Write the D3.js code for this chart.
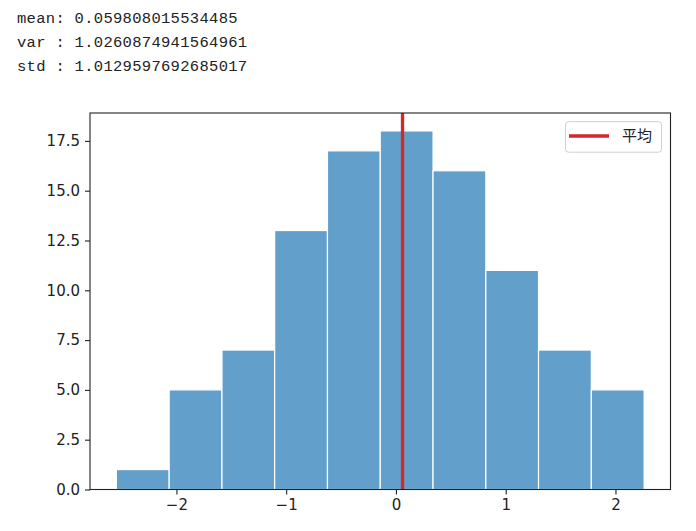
<!DOCTYPE html>
<html>
<head>
<meta charset="utf-8">
<script src="https://cdn.jsdelivr.net/npm/d3@7"></script>
<style>
  body { margin: 0; background: #fff; }
  svg { display: block; }
</style>
</head>
<body>
<svg id="chart" width="696" height="531"></svg>
<script>
// stats printed above the plot
const statLines = [
  'mean: 0.059808015534485',
  'var : 1.0260874941564961',
  'std : 1.0129597692685017',
];

// histogram: 10 bins, edges
const binEdges = [-2.547, -2.066, -1.585, -1.105, -0.624, -0.143, 0.338, 0.819, 1.299, 1.780, 2.261];
const binCounts = [1, 5, 7, 13, 17, 18, 16, 11, 7, 5];
const meanValue = 0.059808015534485;
const legendLabel = '平均';

const xTicks = [-2, -1, 0, 1, 2];
const yTicks = [0, 2.5, 5, 7.5, 10, 12.5, 15, 17.5];

const svg = d3.select('#chart');

svg
  .selectAll('.stat')
  .data(statLines)
  .enter()
  .append('text')
  .attr('class', 'stat')
  .attr('x', 17)
  .attr('y', (d, i) => 22.5 + i * 24.4)
  .style('font-family', '"Liberation Mono", "DejaVu Sans Mono", monospace')
  .style('font-size', '15.5px')
  .style('letter-spacing', '0.3px')
  .attr('fill', '#222')
  .text((d) => d);

const margin = { top: 113, right: 25.5, bottom: 41.5, left: 90 };
const width = 696 - margin.left - margin.right;
const height = 531 - margin.top - margin.bottom;

const g = svg
  .append('g')
  .attr('transform', `translate(${margin.left},${margin.top})`);

const lo = binEdges[0];
const hi = binEdges[binEdges.length - 1];
const pad = (hi - lo) * 0.05;

const xScale = d3.scaleLinear().domain([lo - pad, hi + pad]).range([0, width]);
const yScale = d3
  .scaleLinear()
  .domain([0, d3.max(binCounts) * 1.05])
  .range([height, 0]);

const bins = binCounts.map((c, i) => ({ x0: binEdges[i], x1: binEdges[i + 1], count: c }));

g.selectAll('.bar')
  .data(bins)
  .enter()
  .append('rect')
  .attr('class', 'bar')
  .attr('x', (d) => xScale(d.x0))
  .attr('y', (d) => yScale(d.count))
  .attr('width', (d) => xScale(d.x1) - xScale(d.x0))
  .attr('height', (d) => yScale(0) - yScale(d.count))
  .attr('fill', 'rgb(98,160,203)')
  .attr('stroke', '#fff')
  .attr('stroke-width', 1.2);

g.append('line')
  .attr('x1', xScale(meanValue))
  .attr('x2', xScale(meanValue))
  .attr('y1', 0)
  .attr('y2', height)
  .attr('stroke', '#d62728')
  .attr('stroke-width', 3.3);

const tickFont = '"DejaVu Sans", sans-serif';

const xAxis = g
  .append('g')
  .attr('transform', `translate(0,${height})`)
  .call(d3.axisBottom(xScale).tickValues(xTicks).tickSize(5).tickPadding(5).tickFormat(d3.format('d')));

const yAxis = g
  .append('g')
  .call(d3.axisLeft(yScale).tickValues(yTicks).tickSize(5).tickPadding(5).tickFormat(d3.format('.1f')));

[xAxis, yAxis].forEach((ax) => {
  ax.select('.domain').remove();
  ax.selectAll('line').attr('stroke', '#222').attr('stroke-width', 1.1);
  ax.selectAll('text')
    .style('font-family', tickFont)
    .style('font-size', '15px')
    .attr('fill', '#222');
});
xAxis.selectAll('text').text((d) => (d < 0 ? '\u2212' + Math.abs(d) : d));

// frame
g.append('rect')
  .attr('x', 0)
  .attr('y', 0)
  .attr('width', width)
  .attr('height', height)
  .attr('fill', 'none')
  .attr('stroke', '#222')
  .attr('stroke-width', 1.1);

// legend
const legend = g.append('g').attr('transform', `translate(${width - 105},${8.7})`);

legend
  .append('rect')
  .attr('width', 96)
  .attr('height', 30.5)
  .attr('rx', 3)
  .attr('fill', 'rgba(255,255,255,0.8)')
  .attr('stroke', '#d0d0d0')
  .attr('stroke-width', 1);

legend
  .append('line')
  .attr('x1', 3.5)
  .attr('x2', 43.5)
  .attr('y1', 14.3)
  .attr('y2', 14.3)
  .attr('stroke', '#d62728')
  .attr('stroke-width', 3.3);

legend
  .append('text')
  .attr('x', 56.5)
  .attr('y', 14.3)
  .attr('dy', '0.36em')
  .style('font-family', '"Noto Sans CJK JP", "Noto Sans CJK SC", sans-serif')
  .style('font-size', '15px')
  .attr('fill', '#222')
  .text(legendLabel);
</script>
</body>
</html>
